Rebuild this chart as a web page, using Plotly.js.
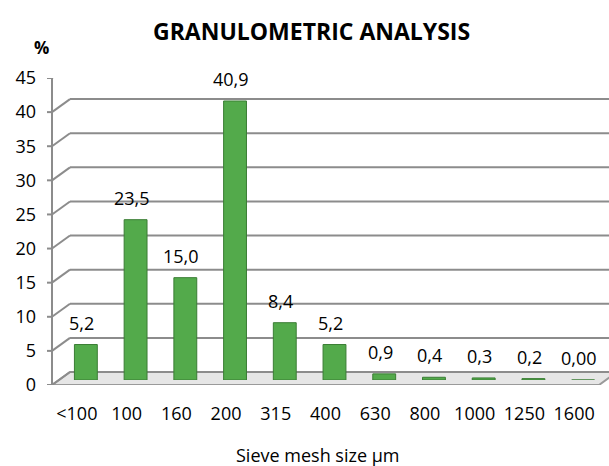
<!DOCTYPE html>
<html>
<head>
<meta charset="utf-8">
<script src="https://cdn.plot.ly/plotly-3.0.1.min.js"></script>
<style>html,body{margin:0;padding:0;background:#fff;}#chart{width:609px;height:466px;}</style>
</head>
<body>
<div id="chart"></div>
<script>
const categories = ['<100','100','160','200','315','400','630','800','1000','1250','1600'];
const values = [5.2, 23.5, 15.0, 40.9, 8.4, 5.2, 0.9, 0.4, 0.3, 0.2, 0.0];
const valueLabels = ['5,2','23,5','15,0','40,9','8,4','5,2','0,9','0,4','0,3','0,2','0,00'];
const yTicks = [0,5,10,15,20,25,30,35,40,45];

const W = 609, H = 466;
const fx = p => p / W;
const fy = p => (H - p) / H;
const FONT = 'Open Sans, Noto Sans, sans-serif';
const GRID = '#8c8c8c';
const DX = 18, DY = 13;
const X0 = 52, X1 = 599;
const YB = 385, YT = 78;
const YMAX = 45;
const yDom = [fy(YB), fy(YT)];

const idx = categories.map((c, i) => i);

// front value-axis line + tick marks (x in pixels from the axis, y in value units)
const axX = [], axY = [];
yTicks.forEach(v => { axX.push(0, -5, null); axY.push(v, v, null); });
axX.push(0, 0); axY.push(yTicks[0], yTicks[yTicks.length-1]);

const traces = [
  {type:'scatter', x:[], y:[], xaxis:'x', yaxis:'y', hoverinfo:'skip', showlegend:false},
  {type:'bar', x:idx, y:values, xaxis:'x2', yaxis:'y2', width:0.46,
   marker:{color:'#53aa4b', line:{color:'#3a7d34', width:1}},
   hoverinfo:'y', showlegend:false},
  {type:'scatter', mode:'lines', x:axX, y:axY, xaxis:'x3', yaxis:'y3', connectgaps:false,
   line:{color:GRID, width:2}, hoverinfo:'skip', showlegend:false, cliponaxis:false}
];

const shapes = [];
shapes.push({type:'path', xref:'paper', yref:'y', ysizemode:'pixel', yanchor:0, layer:'below',
  path:`M${fx(X0)},0 L${fx(X1)},0 L${fx(X1+DX)},${DY} L${fx(X0+DX)},${DY} Z`,
  fillcolor:'#e6e6e6', line:{color:'#9a9a9a', width:2}});
yTicks.forEach(v => {
  shapes.push({type:'line', xref:'paper', yref:'y', ysizemode:'pixel', yanchor:v,
    x0:fx(X0+DX), x1:1, y0:DY, y1:DY, layer:'below', line:{color:GRID, width:2}});
  shapes.push({type:'line', xref:'paper', yref:'y', ysizemode:'pixel', yanchor:v,
    x0:fx(X0), x1:fx(X0+DX), y0:0, y1:DY, layer:'below', line:{color:GRID, width:2}});
});

const annotations = idx.map(i => ({
  x:i, y:values[i], xref:'x2', yref:'y2', text:valueLabels[i], showarrow:false,
  yanchor:'middle', xanchor:'center', yshift:22, xshift:-4,
  font:{family:FONT, size:18, color:'#000'}
}));
annotations.push({text:'<b>GRANULOMETRIC ANALYSIS</b>', xref:'paper', yref:'paper',
  x:fx(311), y:fy(31), xanchor:'center', yanchor:'middle', showarrow:false,
  font:{family:FONT, size:23, color:'#000'}});
annotations.push({text:'<b>%</b>', xref:'paper', yref:'paper',
  x:fx(41), y:fy(48), xanchor:'center', yanchor:'middle', showarrow:false,
  font:{family:FONT, size:17, color:'#000'}});
annotations.push({text:'Sieve mesh size µm', xref:'paper', yref:'paper',
  x:fx(318), y:fy(455), xanchor:'center', yanchor:'middle', showarrow:false,
  font:{family:FONT, size:18, color:'#000'}});

const layout = {
  width:W, height:H, autosize:false,
  margin:{l:0, r:0, t:0, b:0, pad:0},
  paper_bgcolor:'#fff', plot_bgcolor:'rgba(0,0,0,0)',
  showlegend:false,
  font:{family:FONT, size:18, color:'#000'},
  xaxis:{domain:[fx(X0), fx(X1)], range:[-0.5,10.5], anchor:'y',
         tickmode:'array', tickvals:idx, ticktext:categories,
         showgrid:false, zeroline:false, showline:false, ticks:'',
         ticklabelstandoff:16, tickfont:{family:FONT, size:18, color:'#000'}, fixedrange:true},
  yaxis:{domain:yDom, range:[0,YMAX], anchor:'x',
         tickmode:'array', tickvals:yTicks, ticktext:yTicks.map(String),
         showgrid:false, zeroline:false, showline:false, ticks:'',
         ticklabelstandoff:15, tickfont:{family:FONT, size:18, color:'#000'}, fixedrange:true},
  xaxis2:{domain:[fx(X0+9), fx(X1+9)], range:[-0.5,10.5], anchor:'y2',
          visible:false, fixedrange:true},
  yaxis2:{domain:[fy(380), fy(73)], range:[0,YMAX], anchor:'x2', visible:false, fixedrange:true},
  xaxis3:{domain:[fx(X0-10), fx(X0+10)], range:[-10,10], anchor:'y3', visible:false, fixedrange:true},
  yaxis3:{domain:yDom, range:[0,YMAX], anchor:'x3', visible:false, fixedrange:true},
  shapes:shapes,
  annotations:annotations
};

Plotly.newPlot('chart', traces, layout, {displayModeBar:false, staticPlot:true});
</script>
</body>
</html>
